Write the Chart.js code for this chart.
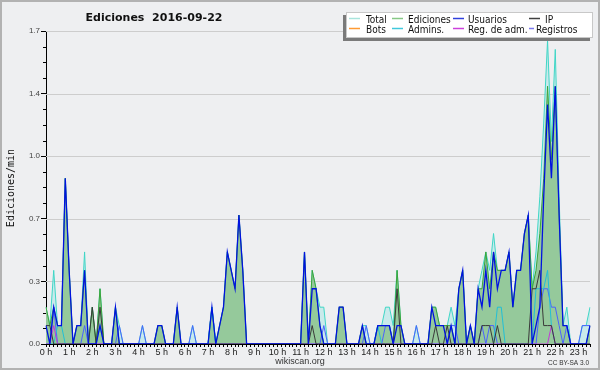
<!DOCTYPE html>
<html>
<head>
<meta charset="utf-8">
<script src="https://cdn.jsdelivr.net/npm/chart.js@4.4.0/dist/chart.umd.min.js"></script>
<style>
  html, body { margin: 0; padding: 0; background: #eeeff1; }
  canvas { display: block; }
</style>
</head>
<body>
<canvas id="chart" width="600" height="370"></canvas>
<script>
// Ediciones por minuto, en franjas de 10 minutos (una fila = una hora)
const hourLabels = ['0 h','1 h','2 h','3 h','4 h','5 h','6 h','7 h','8 h','9 h','10 h','11 h',
  '12 h','13 h','14 h','15 h','16 h','17 h','18 h','19 h','20 h','21 h','22 h','23 h'];
const yTicks = [0, 0.34, 0.68, 1.02, 1.36, 1.7];
const yTickLabels = ['0.0', '0.3', '0.7', '1.0', '1.4', '1.7'];
const seriesNames = ['Total', 'Ediciones', 'Usuarios', 'IP', 'Bots', 'Admins.', 'Reg. de adm.', 'Registros'];

const total = [
  0.2, 0.1, 0.4, 0.1, 0.1, 0.9,
  0.4, 0, 0.1, 0.1, 0.5, 0,
  0.2, 0, 0.3, 0, 0, 0,
  0.2, 0.1, 0, 0, 0, 0,
  0, 0.1, 0, 0, 0, 0.1,
  0.1, 0, 0, 0, 0.2, 0,
  0, 0, 0.1, 0, 0, 0,
  0, 0.2, 0, 0.1, 0.2, 0.5,
  0.4, 0.3, 0.7, 0.4, 0, 0,
  0, 0, 0, 0, 0, 0,
  0, 0, 0, 0, 0, 0,
  0, 0.5, 0, 0.4, 0.3, 0.2,
  0.2, 0, 0, 0, 0.2, 0.2,
  0, 0, 0, 0, 0.1, 0.1,
  0, 0, 0.1, 0.1, 0.2, 0.2,
  0.1, 0.4, 0.1, 0, 0, 0,
  0.1, 0, 0, 0, 0.2, 0.2,
  0.1, 0.1, 0.1, 0.2, 0.1, 0.3,
  0.4, 0, 0.1, 0, 0.3, 0.4,
  0.5, 0.4, 0.6, 0.4, 0.4, 0.4,
  0.5, 0.2, 0.4, 0.4, 0.6, 0.7,
  0.3, 0.5, 0.8, 1.2, 1.65, 1.1,
  1.6, 0.8, 0.1, 0.2, 0, 0,
  0, 0.1, 0.1, 0.2
];
const ediciones = [
  0.2, 0.1, 0.2, 0.1, 0.1, 0.9,
  0.4, 0, 0.1, 0.1, 0.4, 0,
  0.2, 0, 0.3, 0, 0, 0,
  0.2, 0, 0, 0, 0, 0,
  0, 0, 0, 0, 0, 0.1,
  0.1, 0, 0, 0, 0.2, 0,
  0, 0, 0, 0, 0, 0,
  0, 0.2, 0, 0.1, 0.2, 0.5,
  0.4, 0.3, 0.7, 0.4, 0, 0,
  0, 0, 0, 0, 0, 0,
  0, 0, 0, 0, 0, 0,
  0, 0.5, 0, 0.4, 0.3, 0.1,
  0, 0, 0, 0, 0.2, 0.2,
  0, 0, 0, 0, 0.1, 0,
  0, 0, 0.1, 0.1, 0.1, 0.1,
  0, 0.4, 0.1, 0, 0, 0,
  0, 0, 0, 0, 0.2, 0.2,
  0.1, 0.1, 0.1, 0.1, 0, 0.3,
  0.4, 0, 0.1, 0, 0.3, 0.3,
  0.5, 0.3, 0.5, 0.4, 0.4, 0.4,
  0.5, 0.2, 0.4, 0.4, 0.6, 0.7,
  0.3, 0.4, 0.6, 0.9, 1.4, 1.0,
  1.4, 0.7, 0.1, 0.1, 0, 0,
  0, 0, 0, 0.1
];
const usuarios = [
  0.1, 0, 0.2, 0.1, 0.1, 0.9,
  0.4, 0, 0.1, 0.1, 0.4, 0,
  0, 0, 0.1, 0, 0, 0,
  0.2, 0, 0, 0, 0, 0,
  0, 0, 0, 0, 0, 0.1,
  0.1, 0, 0, 0, 0.2, 0,
  0, 0, 0, 0, 0, 0,
  0, 0.2, 0, 0.1, 0.2, 0.5,
  0.4, 0.3, 0.7, 0.4, 0, 0,
  0, 0, 0, 0, 0, 0,
  0, 0, 0, 0, 0, 0,
  0, 0.5, 0, 0.3, 0.3, 0.1,
  0, 0, 0, 0, 0.2, 0.2,
  0, 0, 0, 0, 0.1, 0,
  0, 0, 0.1, 0.1, 0.1, 0.1,
  0, 0.1, 0.1, 0, 0, 0,
  0, 0, 0, 0, 0.2, 0.1,
  0.1, 0.1, 0, 0.1, 0, 0.3,
  0.4, 0, 0.1, 0, 0.3, 0.2,
  0.4, 0.2, 0.5, 0.3, 0.4, 0.4,
  0.5, 0.2, 0.4, 0.4, 0.6, 0.7,
  0, 0.1, 0.2, 0.8, 1.3, 0.9,
  1.4, 0.7, 0.1, 0.1, 0, 0,
  0, 0, 0, 0.1
];
const ip = [
  0.1, 0.1, 0, 0, 0, 0,
  0, 0, 0, 0, 0, 0,
  0.2, 0, 0.2, 0, 0, 0,
  0, 0, 0, 0, 0, 0,
  0, 0, 0, 0, 0, 0,
  0, 0, 0, 0, 0, 0,
  0, 0, 0, 0, 0, 0,
  0, 0, 0, 0, 0, 0,
  0, 0, 0, 0, 0, 0,
  0, 0, 0, 0, 0, 0,
  0, 0, 0, 0, 0, 0,
  0, 0, 0, 0.1, 0, 0,
  0, 0, 0, 0, 0, 0,
  0, 0, 0, 0, 0, 0,
  0, 0, 0, 0, 0, 0,
  0, 0.3, 0, 0, 0, 0,
  0, 0, 0, 0, 0, 0.1,
  0, 0, 0.1, 0, 0, 0,
  0, 0, 0, 0, 0, 0.1,
  0.1, 0.1, 0, 0.1, 0, 0,
  0, 0, 0, 0, 0, 0,
  0.3, 0.3, 0.4, 0.1, 0.1, 0.1,
  0, 0, 0, 0, 0, 0,
  0, 0, 0, 0
];
const admins = [
  0, 0, 0, 0.1, 0.1, 0,
  0, 0, 0, 0, 0, 0,
  0, 0, 0.1, 0, 0, 0,
  0, 0, 0, 0, 0, 0,
  0, 0, 0, 0, 0, 0,
  0, 0, 0, 0, 0, 0,
  0, 0, 0, 0, 0, 0,
  0, 0.2, 0, 0, 0, 0,
  0, 0, 0, 0, 0, 0,
  0, 0, 0, 0, 0, 0,
  0, 0, 0, 0, 0, 0,
  0, 0, 0, 0, 0, 0,
  0, 0, 0, 0, 0, 0,
  0, 0, 0, 0, 0, 0,
  0, 0, 0.1, 0, 0, 0,
  0, 0, 0, 0, 0, 0,
  0, 0, 0, 0, 0, 0,
  0, 0, 0, 0, 0, 0,
  0, 0, 0, 0, 0, 0,
  0, 0, 0, 0.2, 0.2, 0,
  0, 0, 0, 0, 0, 0,
  0, 0.3, 0.3, 0.3, 0.4, 0.1,
  0, 0, 0, 0, 0, 0,
  0, 0, 0, 0
];
const regAdm = [
  0, 0, 0.1, 0, 0, 0,
  0, 0, 0, 0, 0, 0,
  0, 0, 0, 0, 0, 0,
  0, 0, 0, 0, 0, 0,
  0, 0, 0, 0, 0, 0,
  0, 0, 0, 0, 0, 0,
  0, 0, 0, 0, 0, 0,
  0, 0, 0, 0, 0, 0,
  0, 0, 0, 0, 0, 0,
  0, 0, 0, 0, 0, 0,
  0, 0, 0, 0, 0, 0,
  0, 0, 0, 0, 0, 0,
  0, 0, 0, 0, 0, 0,
  0, 0, 0, 0, 0, 0,
  0, 0, 0, 0, 0, 0,
  0, 0, 0, 0, 0, 0,
  0, 0, 0, 0, 0, 0,
  0, 0, 0, 0, 0, 0,
  0, 0, 0, 0, 0, 0,
  0, 0, 0, 0, 0, 0,
  0, 0, 0, 0, 0, 0,
  0, 0, 0, 0, 0, 0.1,
  0, 0, 0, 0, 0, 0,
  0, 0, 0, 0
];
const registros = [
  0, 0, 0.2, 0, 0, 0,
  0, 0, 0, 0, 0.1, 0,
  0, 0, 0, 0, 0, 0,
  0, 0.1, 0, 0, 0, 0,
  0, 0.1, 0, 0, 0, 0,
  0, 0, 0, 0, 0, 0,
  0, 0, 0.1, 0, 0, 0,
  0, 0, 0, 0, 0, 0,
  0, 0, 0, 0, 0, 0,
  0, 0, 0, 0, 0, 0,
  0, 0, 0, 0, 0, 0,
  0, 0, 0, 0, 0, 0,
  0.1, 0, 0, 0, 0, 0,
  0, 0, 0, 0, 0, 0.1,
  0, 0, 0, 0, 0.1, 0.1,
  0, 0, 0, 0, 0, 0,
  0.1, 0, 0, 0, 0, 0,
  0, 0, 0, 0.1, 0.1, 0,
  0, 0, 0, 0, 0, 0.1,
  0, 0.1, 0.1, 0, 0, 0,
  0, 0, 0, 0, 0, 0,
  0, 0, 0.2, 0.3, 0.3, 0.2,
  0.2, 0.1, 0, 0.1, 0, 0,
  0, 0.1, 0.1, 0.1
];

const colors = {
  'Total': '#a8e4dc', 'Ediciones': '#86c886', 'Usuarios': '#3040dd', 'IP': '#404040',
  'Bots': '#ff9a33', 'Admins.': '#40c8dc', 'Reg. de adm.': '#cc40dc', 'Registros': '#7a78ee'
};

// etiquetas de las franjas de 10 minutos
const slots = total.map((v, i) => String(Math.floor(i / 6)).padStart(2, '0') + ':' + (i % 6) + '0');

const line = (label, data, color, order, extra) => Object.assign({
  label, data, borderColor: color, borderWidth: 1, pointRadius: 0, fill: false,
  tension: 0, order
}, extra || {});

const decor = {
  id: 'decor',
  beforeDraw(chart) {
    const ctx = chart.ctx;
    ctx.save();
    ctx.fillStyle = '#eeeff1';
    ctx.fillRect(0, 0, 600, 370);
    ctx.strokeStyle = '#b2b2b2';
    ctx.lineWidth = 2;
    ctx.strokeRect(1, 1, 598, 368);
    ctx.restore();
  },
  beforeDatasetsDraw(chart) {
    const { ctx, chartArea, scales } = chart;
    ctx.save();
    ctx.strokeStyle = '#cdcdcd';
    ctx.lineWidth = 1;
    yTicks.slice(1).forEach(v => {
      const y = Math.round(scales.y.getPixelForValue(v)) + 0.5;
      ctx.beginPath();
      ctx.moveTo(chartArea.left, y);
      ctx.lineTo(chartArea.right, y);
      ctx.stroke();
    });
    ctx.restore();
  },
  afterDraw(chart) {
    const { ctx, chartArea, scales } = chart;
    ctx.save();
    // minor ticks
    ctx.strokeStyle = '#000';
    ctx.lineWidth = 1;
    for (let k = 1; k < 20; k++) {
      if (k % 4 === 0) continue;
      const y = Math.round(scales.y.getPixelForValue(k * 0.085)) + 0.5;
      ctx.beginPath();
      ctx.moveTo(chartArea.left - 3, y);
      ctx.lineTo(chartArea.left, y);
      ctx.stroke();
    }
    // title
    ctx.fillStyle = '#111';
    ctx.font = 'bold 11px "DejaVu Sans"';
    ctx.textAlign = 'center';
    ctx.textBaseline = 'alphabetic';
    ctx.fillText('Ediciones  2016-09-22', 154, 21);
    // axis title
    ctx.save();
    ctx.translate(14, 188);
    ctx.rotate(-Math.PI / 2);
    ctx.font = '10px "DejaVu Sans Mono"';
    ctx.fillText('Ediciones/min', 0, 0);
    ctx.restore();
    // footer
    ctx.font = '9px "Liberation Sans"';
    ctx.fillStyle = '#333';
    ctx.fillText('wikiscan.org', 300, 364);
    ctx.font = '6.5px "Liberation Sans"';
    ctx.textAlign = 'right';
    ctx.fillText('CC BY-SA 3.0', 589, 364.5);
    // legend
    ctx.fillStyle = '#7a7a7a';
    ctx.fillRect(343, 15, 247, 26);
    ctx.fillStyle = '#ffffff';
    ctx.fillRect(346, 12, 247, 26);
    ctx.strokeStyle = '#c8c8c8';
    ctx.strokeRect(346.5, 12.5, 246, 25);
    const swX = [349, 392, 453, 529];
    const txX = [[366, 408, 468, 545], [366, 408, 468, 536]];
    const rows = [18.5, 28.5];
    ctx.font = '10px "DejaVu Sans Condensed", "DejaVu Sans"';
    ctx.textAlign = 'left';
    ctx.textBaseline = 'alphabetic';
    seriesNames.forEach((name, n) => {
      const r = Math.floor(n / 4), c = n % 4;
      const len = (r === 1 && c === 3) ? 5 : 11;
      ctx.strokeStyle = colors[name];
      ctx.lineWidth = 1.5;
      ctx.beginPath();
      ctx.moveTo(swX[c], rows[r]);
      ctx.lineTo(swX[c] + len, rows[r]);
      ctx.stroke();
      ctx.fillStyle = '#111';
      ctx.fillText(name, txX[r][c], rows[r] + 4);
    });
    ctx.restore();
  }
};

new Chart(document.getElementById('chart'), {
  type: 'line',
  data: {
    labels: slots,
    datasets: [
      line('Usuarios', usuarios, '#0012e0', 1, { borderWidth: 1.3 }),
      line('IP', ip, '#3a3a3a', 2),
      line('Reg. de adm.', regAdm, '#c23ad8', 3),
      line('Admins.', admins, '#22bfd6', 4),
      line('Registros', registros, '#4a62ff', 5),
      line('Ediciones', ediciones, '#3aa53a', 8, { fill: 'origin', backgroundColor: '#95c99b' }),
      line('Total', total, '#3fd6c6', 9, { fill: 'origin', backgroundColor: 'rgba(188,232,232,0.75)' })
    ]
  },
  options: {
    responsive: false,
    animation: false,
    devicePixelRatio: 1,
    layout: { padding: { top: 31, right: 10, left: 0, bottom: 0 } },
    plugins: { legend: { display: false }, title: { display: false }, tooltip: { enabled: false } },
    scales: {
      x: {
        type: 'category', z: 1,
        afterFit: s => { s.height = 26; },
        border: { display: true, color: '#000', width: 1 },
        grid: { drawOnChartArea: false, tickLength: 3, tickColor: '#000', color: '#000', offset: false },
        ticks: {
          autoSkip: false, maxRotation: 0, minRotation: 0, padding: 0, color: '#222',
          font: { family: 'Liberation Sans', size: 9 },
          callback: (v, i) => (i % 6 === 0 ? hourLabels[i / 6] : '')
        }
      },
      y: {
        type: 'linear', min: 0, max: 1.7, z: 1,
        afterBuildTicks: s => { s.ticks = yTicks.map(v => ({ value: v })); },
        afterFit: s => { s.width = 46; },
        border: { display: true, color: '#000', width: 1 },
        grid: { drawOnChartArea: false, tickLength: 5, tickColor: '#000', color: '#000' },
        ticks: {
          padding: 1, color: '#444',
          font: { family: 'Liberation Sans', size: 8 },
          callback: (v, i) => yTickLabels[i]
        }
      }
    }
  },
  plugins: [decor]
});
</script>
</body>
</html>
